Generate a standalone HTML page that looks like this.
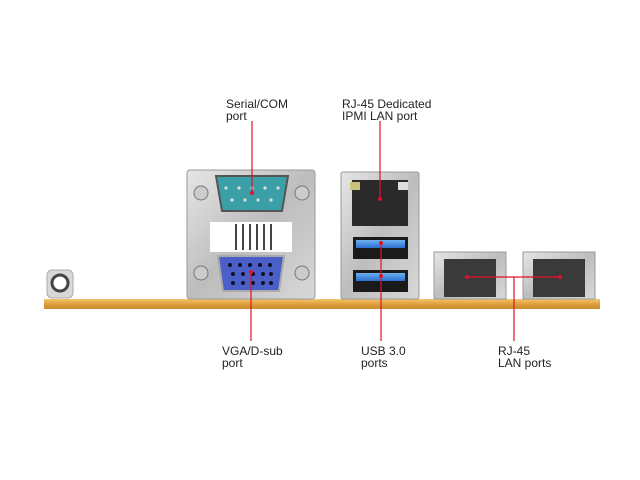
<!DOCTYPE html>
<html><head><meta charset="utf-8"><style>
html,body{margin:0;padding:0;background:#fff;}
svg{display:block;}
text{font-family:"Liberation Sans",Arial,sans-serif;font-size:12px;fill:#222;}
</style></head><body>
<svg width="640" height="480" viewBox="0 0 640 480">
<defs>
<linearGradient id="board" x1="0" y1="0" x2="0" y2="1">
<stop offset="0" stop-color="#f3c56a"/><stop offset="0.5" stop-color="#e0a040"/><stop offset="1" stop-color="#c98a2e"/>
</linearGradient>
<linearGradient id="metal" x1="0" y1="0" x2="1" y2="1">
<stop offset="0" stop-color="#e6e6e6"/><stop offset="0.5" stop-color="#bdbdbd"/><stop offset="1" stop-color="#d8d8d8"/>
</linearGradient>
<linearGradient id="usb" x1="0" y1="0" x2="0" y2="1">
<stop offset="0" stop-color="#6fb2f0"/><stop offset="1" stop-color="#2a6fd0"/>
</linearGradient>
</defs>
<!-- board -->
<rect x="44" y="299" width="556" height="10" fill="url(#board)"/>
<!-- knob -->
<rect x="47" y="270" width="26" height="28" rx="5" fill="#d8d8d8" stroke="#aaa"/>
<circle cx="60" cy="283" r="8" fill="#fff" stroke="#444" stroke-width="3"/>
<!-- serial/vga block -->
<rect x="187" y="170" width="128" height="129" rx="3" fill="url(#metal)" stroke="#999"/>
<rect x="210" y="222" width="82" height="30" fill="#fff"/>
<g stroke="#444" stroke-width="2">
<line x1="236" y1="224" x2="236" y2="250"/><line x1="243" y1="224" x2="243" y2="250"/><line x1="250" y1="224" x2="250" y2="250"/>
<line x1="257" y1="224" x2="257" y2="250"/><line x1="264" y1="224" x2="264" y2="250"/><line x1="271" y1="224" x2="271" y2="250"/>
</g>
<circle cx="201" cy="193" r="7" fill="#ccc" stroke="#777"/><circle cx="302" cy="193" r="7" fill="#ccc" stroke="#777"/>
<circle cx="201" cy="273" r="7" fill="#ccc" stroke="#777"/><circle cx="302" cy="273" r="7" fill="#ccc" stroke="#777"/>
<path d="M216 176 H288 L282 211 H222 Z" fill="#3a9fa6" stroke="#555" stroke-width="2"/>
<g fill="#ddd"><circle cx="226" cy="188" r="1.6"/><circle cx="239" cy="188" r="1.6"/><circle cx="252" cy="188" r="1.6"/><circle cx="265" cy="188" r="1.6"/><circle cx="278" cy="188" r="1.6"/>
<circle cx="232" cy="200" r="1.6"/><circle cx="245" cy="200" r="1.6"/><circle cx="258" cy="200" r="1.6"/><circle cx="271" cy="200" r="1.6"/></g>
<path d="M218 256 H284 L279 291 H223 Z" fill="#4a5fc8" stroke="#aaa" stroke-width="2"/>
<g fill="#112"><circle cx="230" cy="265" r="2"/><circle cx="240" cy="265" r="2"/><circle cx="250" cy="265" r="2"/><circle cx="260" cy="265" r="2"/><circle cx="270" cy="265" r="2"/>
<circle cx="233" cy="274" r="2"/><circle cx="243" cy="274" r="2"/><circle cx="253" cy="274" r="2"/><circle cx="263" cy="274" r="2"/><circle cx="271" cy="274" r="2"/>
<circle cx="233" cy="283" r="2"/><circle cx="243" cy="283" r="2"/><circle cx="253" cy="283" r="2"/><circle cx="263" cy="283" r="2"/><circle cx="271" cy="283" r="2"/></g>
<!-- RJ45/USB stack -->
<rect x="341" y="172" width="78" height="127" rx="2" fill="url(#metal)" stroke="#999"/>
<rect x="352" y="180" width="56" height="46" fill="#2a2a2a"/>
<rect x="350" y="182" width="10" height="8" fill="#c9c27a"/><rect x="398" y="182" width="10" height="8" fill="#ddd"/>
<rect x="353" y="237" width="55" height="22" fill="#1a1a1a"/><rect x="356" y="240" width="49" height="8" fill="url(#usb)"/>
<rect x="353" y="270" width="55" height="22" fill="#1a1a1a"/><rect x="356" y="273" width="49" height="8" fill="url(#usb)"/>
<!-- LAN ports -->
<rect x="434" y="252" width="72" height="47" fill="url(#metal)" stroke="#999"/>
<rect x="444" y="259" width="52" height="38" fill="#3a3a3a"/>
<rect x="523" y="252" width="72" height="47" fill="url(#metal)" stroke="#999"/>
<rect x="533" y="259" width="52" height="38" fill="#3a3a3a"/>
<!-- red leaders -->
<g stroke="#e0102a" stroke-width="1.2" fill="none">
<line x1="252" y1="121" x2="252" y2="193"/>
<line x1="251" y1="272" x2="251" y2="341"/>
<line x1="380" y1="121" x2="380" y2="199"/>
<line x1="381" y1="243" x2="381" y2="341"/>
<line x1="467" y1="277" x2="560" y2="277"/>
<line x1="514" y1="277" x2="514" y2="341"/>
</g>
<g fill="#e0102a"><circle cx="252" cy="193" r="2"/><circle cx="251" cy="272" r="2"/><circle cx="380" cy="199" r="2"/><circle cx="381" cy="243" r="2"/><circle cx="381" cy="276" r="2"/><circle cx="467" cy="277" r="2"/><circle cx="560" cy="277" r="2"/></g>
<!-- labels -->
<text x="226" y="108">Serial/COM</text><text x="226" y="120">port</text>
<text x="342" y="108">RJ-45 Dedicated</text><text x="342" y="120">IPMI LAN port</text>
<text x="222" y="355">VGA/D-sub</text><text x="222" y="367">port</text>
<text x="361" y="355">USB 3.0</text><text x="361" y="367">ports</text>
<text x="498" y="355">RJ-45</text><text x="498" y="367">LAN ports</text>
</svg>
</body></html>
